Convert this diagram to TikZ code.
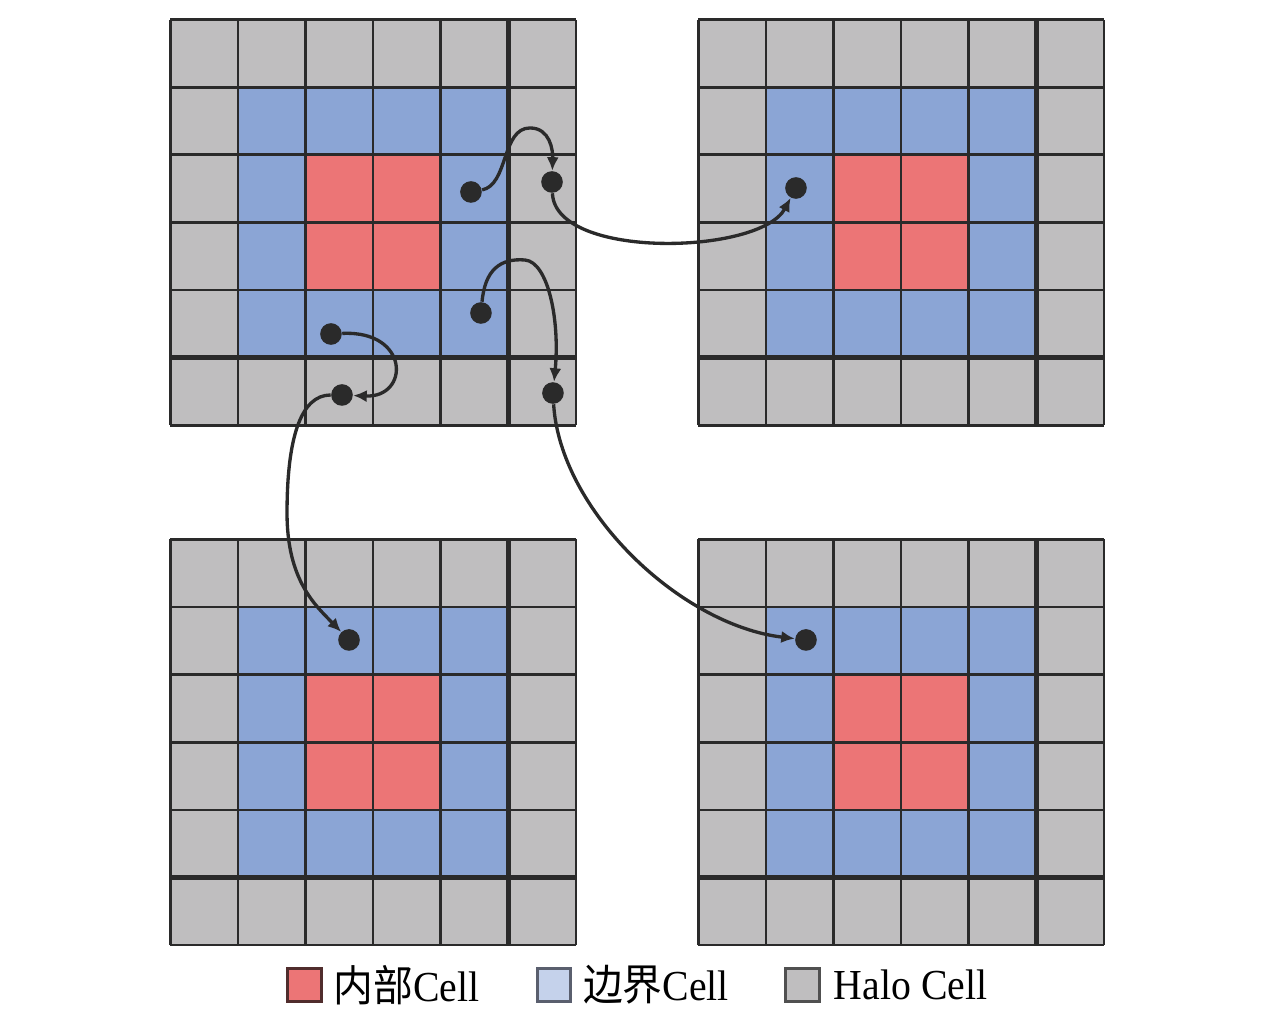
\documentclass[tikz,border=0pt]{standalone}
\usepackage{fontspec}
\setmainfont{Liberation Serif}[FakeStretch=0.93]
\newfontfamily\cjk{Noto Sans CJK SC}[FakeStretch=0.93]
\usetikzlibrary{arrows.meta,positioning}
\definecolor{halogray}{RGB}{191,190,191}
\definecolor{edgeblue}{RGB}{139,165,213}
\definecolor{innerred}{RGB}{236,117,118}
\definecolor{lightblue}{RGB}{197,210,235}
\definecolor{linegray}{RGB}{42,42,42}
\tikzset{
  gridline/.style={draw=linegray, line width=1.1pt},
  boldline/.style={draw=linegray, line width=1.9pt}
}
\begin{document}
\begin{tikzpicture}[
    dot/.style={circle, fill=linegray, inner sep=0pt, minimum size=0.32cm},
    link/.style={-{Latex[length=2mm,width=1.8mm]}, line width=1.4pt, draw=linegray},
    legendbox/.style={line width=1.3pt, minimum size=0.5cm, inner sep=0pt},
    legendtext/.style={font=\fontsize{18}{20}\selectfont, inner sep=0pt}
  ]
  \useasboundingbox (0,0) rectangle (18.876,15);
  \foreach \gx/\gy in {2.52/8.71, 10.33/8.71, 2.52/1.02, 10.33/1.02}{
    \begin{scope}[shift={(\gx,\gy)}]
      \fill[halogray] (0,0) rectangle (6,6);
      \fill[edgeblue] (1,1) rectangle (5,5);
      \fill[innerred] (2,2) rectangle (4,4);
      \foreach \k in {0,...,6}{
        \draw[gridline] (\k,0) -- (\k,6);
        \draw[gridline] (0,\k) -- (6,\k);
      }
      \draw[boldline] (0,1) -- (6,1) (5,0) -- (5,6);
    \end{scope}
  }
  \node[dot] (A) at (6.967,12.160) {};
  \node[dot] (B) at (8.166,12.308) {};
  \node[dot] (C) at (11.775,12.219) {};
  \node[dot] (D) at (7.115,10.370) {};
  \node[dot] (E) at (8.180,9.186) {};
  \node[dot] (F) at (4.896,10.059) {};
  \node[dot] (G) at (5.059,9.157) {};
  \node[dot] (H) at (5.163,5.533) {};
  \node[dot] (I) at (11.923,5.533) {};
  \draw[link] (A) .. controls (7.520,12.263) and (7.420,13.107) .. (7.840,13.107)
    .. controls (8.136,13.107) and (8.180,12.781) .. (B);
  \draw[link] (B) .. controls (8.210,11.154) and (11.243,11.228) .. (C);
  \draw[link] (D) .. controls (7.175,11.006) and (7.396,11.183) .. (7.766,11.154)
    .. controls (8.107,11.124) and (8.284,10.266) .. (E);
  \draw[link] (F) .. controls (6.065,10.118) and (6.065,9.112) .. (G);
  \draw[link] (G) .. controls (4.438,9.157) and (4.246,8.491) .. (4.246,7.411)
    .. controls (4.246,6.420) and (4.660,6.050) .. (H);
  \draw[link] (E) .. controls (8.284,7.456) and (10.059,5.754) .. (I);
  \node[legendbox, draw={rgb,255:red,80;green,45;blue,45}, fill=innerred] (redkey) at (4.507,0.429) {};
  \node[legendtext, right=0.15cm of redkey] (redlabel) {{\cjk 内部}Cell};
  \node[legendbox, draw={rgb,255:red,90;green,95;blue,110}, fill=lightblue] (bluekey) at (8.195,0.429) {};
  \node[legendtext, right=0.15cm of bluekey] (bluelabel) {{\cjk 边界}Cell};
  \node[legendbox, draw={rgb,255:red,80;green,80;blue,80}, fill=halogray] (graykey) at (11.876,0.429) {};
  \node[legendtext, right=0.18cm of graykey] (graylabel) {Halo Cell};
\end{tikzpicture}
\end{document}
